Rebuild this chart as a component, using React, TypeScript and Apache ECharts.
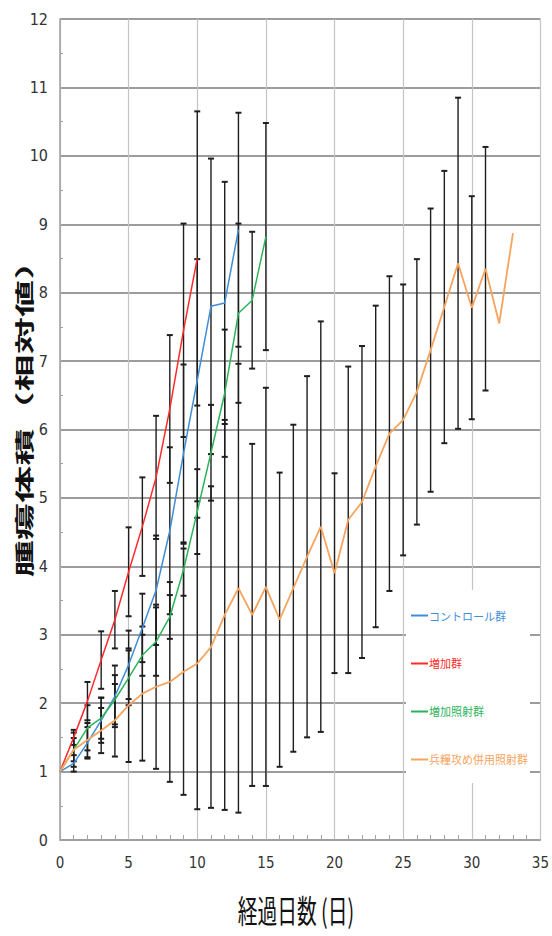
import React, { useEffect, useRef } from "react";
import * as echarts from "echarts";

// Days (x values)
const DAYS = [0, 1, 2, 3, 4, 5, 6, 7, 8, 9, 10, 11, 12, 13, 14, 15, 16, 17, 18, 19, 20, 21, 22, 23, 24, 25, 26, 27, 28, 29, 30, 31, 32, 33];

const SERIES_NAMES = ["コントロール群", "増加群", "増加照射群", "兵糧攻め併用照射群"];
const SERIES_COLORS = ["#3F8ED6", "#FF2B2B", "#2BB55A", "#F7A45E"];

// Mean relative tumour volume per day
const CONTROL_MEAN = [1, 1.12, 1.42, 1.75, 2.1, 2.56, 3.1, 3.65, 4.52, 5.65, 6.72, 7.8, 7.85, 8.92];
const INCREASE_MEAN = [1, 1.5, 2.03, 2.63, 3.22, 3.92, 4.58, 5.3, 6.3, 7.45, 8.5];
const IRRADIATION_MEAN = [1, 1.32, 1.64, 1.78, 2.05, 2.37, 2.7, 2.9, 3.26, 3.95, 4.8, 5.66, 6.53, 7.7, 7.89, 8.82];
const COMBINED_MEAN = [1, 1.32, 1.46, 1.6, 1.75, 1.97, 2.14, 2.24, 2.31, 2.46, 2.58, 2.82, 3.29, 3.68, 3.29, 3.7, 3.22, 3.68, 4.14, 4.58, 3.9, 4.68, 4.94, 5.46, 5.94, 6.14, 6.55, 7.16, 7.79, 8.43, 7.78, 8.35, 7.55, 8.87];

// Error bar half-widths (±SD) per day; null = no bar
const CONTROL_SD = [null, 0.12, 0.23, 0.33, 0.45, 0.5, 0.5, 0.8, 1.22, 1.3, 1.77, 2.16, 1.77, 1.71];
const INCREASE_SD = [null, 0.11, 0.28, 0.42, 0.42, 0.65, 0.72, 0.9, 1.08, 1.56, 2.15];
const IRRADIATION_SD = [null, 0.17, 0.33, 0.3, 0.36, 0.4, 0.3, 0.5, 0.32, 0.38, 0.62, 0.7, 0.93, 1.31, 1.0, 1.66];
const COMBINED_SD = [null, 0.25, 0.25, 0.33, 0.53, 0.83, 0.98, 1.2, 1.46, 1.8, 2.13, 2.35, 2.85, 3.28, 2.5, 2.91, 2.15, 2.39, 2.64, 3.0, 1.46, 2.24, 2.28, 2.35, 2.3, 1.98, 1.94, 2.07, 1.99, 2.42, 1.63, 1.78, null, null];

const MEANS = [CONTROL_MEAN, INCREASE_MEAN, IRRADIATION_MEAN, COMBINED_MEAN];
const SDS = [CONTROL_SD, INCREASE_SD, IRRADIATION_SD, COMBINED_SD];

const X_TITLE = "経過日数 (日)";
const Y_TITLE = "腫瘍体積（相対値）";

const TICK_FONT = "'Liberation Sans Narrow', 'DejaVu Sans Condensed', 'Liberation Sans', sans-serif";
const CJK_FONT = "'Noto Sans CJK JP', sans-serif";

function errorRender(params: any, api: any) {
  const x = api.value(0);
  const lo = api.value(1);
  const hi = api.value(2);
  const top = api.coord([x, hi]);
  const bot = api.coord([x, lo]);
  const style = { stroke: "#1e1e1e", lineWidth: 1.4 };
  const capStyle = { stroke: "#1e1e1e", lineWidth: 2 };
  return {
    type: "group",
    children: [
      { type: "line", shape: { x1: top[0], y1: top[1], x2: bot[0], y2: bot[1] }, style },
      { type: "line", shape: { x1: top[0] - 3, y1: top[1], x2: top[0] + 3, y2: top[1] }, style: capStyle },
      { type: "line", shape: { x1: bot[0] - 3, y1: bot[1], x2: bot[0] + 3, y2: bot[1] }, style: capStyle },
    ],
  };
}

export default function App() {
  const ref = useRef<HTMLDivElement>(null);
  useEffect(() => {
    const chart = echarts.init(ref.current!, null, { renderer: "svg" });

    const errorSeries = MEANS.map((mean, gi) => ({
      type: "custom",
      name: SERIES_NAMES[gi] + "_err",
      renderItem: errorRender,
      encode: { x: 0, y: [1, 2] },
      z: 2,
      silent: true,
      data: mean
        .map((m, i) => {
          const sd = SDS[gi][i];
          return sd == null ? null : [DAYS[i], m - sd, m + sd];
        })
        .filter((d) => d !== null),
    }));

    const lineSeries = MEANS.map((mean, gi) => ({
      type: "line",
      name: SERIES_NAMES[gi],
      data: mean.map((m, i) => [DAYS[i], m]),
      symbol: "none",
      z: 3,
      lineStyle: { color: SERIES_COLORS[gi], width: gi === 3 ? 1.8 : 1.5 },
      itemStyle: { color: SERIES_COLORS[gi] },
    }));

    chart.setOption({
      animation: false,
      grid: { left: 60, right: 11, top: 19, bottom: 96 },
      xAxis: {
        type: "value",
        min: 0,
        max: 35,
        interval: 5,
        axisLine: { show: true, lineStyle: { color: "#a0a0a0", width: 1.5 } },
        axisTick: { show: false, inside: true },
        minorTick: { show: true, splitNumber: 5, length: 5, lineStyle: { color: "#a0a0a0", width: 1 } },
        splitLine: { show: true, lineStyle: { color: "#c4c4c4", width: 1.2 } },
        axisLabel: { color: "#333", fontSize: 15, margin: 15, fontFamily: TICK_FONT },
      },
      yAxis: {
        type: "value",
        min: 0,
        max: 12,
        interval: 1,
        axisLine: { show: true, lineStyle: { color: "#a0a0a0", width: 1.5 } },
        axisTick: { show: false, inside: true },
        minorTick: { show: true, splitNumber: 2, length: 3, lineStyle: { color: "#a0a0a0", width: 1 } },
        splitLine: { show: true, lineStyle: { color: "#9c9c9c", width: 2 } },
        axisLabel: { color: "#333", fontSize: 16, margin: 12, fontFamily: TICK_FONT },
      },
      legend: {
        orient: "vertical",
        left: 406,
        top: 590,
        padding: [20, 2, 18, 5],
        itemGap: 37,
        itemWidth: 17,
        itemHeight: 2,
        icon: "rect",
        selectedMode: false,
        backgroundColor: "#ffffff",
        textStyle: { fontSize: 11, fontFamily: CJK_FONT, padding: [0, 0, 0, -4] },
        data: SERIES_NAMES.map((n, i) => ({ name: n, textStyle: { color: SERIES_COLORS[i] } })),
      },
      graphic: [
        {
          type: "text",
          x: 24,
          y: 410,
          rotation: Math.PI / 2,
          scaleX: 1.2,
          scaleY: 0.62,
          style: {
            text: Y_TITLE,
            fontSize: 31,
            fontWeight: "bold",
            fontFamily: CJK_FONT,
            fill: "#111",
            align: "center",
            verticalAlign: "middle",
          },
        },
        {
          type: "text",
          x: 296,
          y: 910,
          scaleX: 0.68,
          scaleY: 1.08,
          style: {
            text: X_TITLE,
            fontSize: 29,
            fontFamily: CJK_FONT,
            fill: "#111",
            align: "center",
            verticalAlign: "middle",
          },
        },
      ],
      series: [...errorSeries, ...lineSeries],
    });
    return () => chart.dispose();
  }, []);
  return <div ref={ref} style={{ position: "absolute", left: 0, top: 0, width: 552, height: 936 }} />;
}
